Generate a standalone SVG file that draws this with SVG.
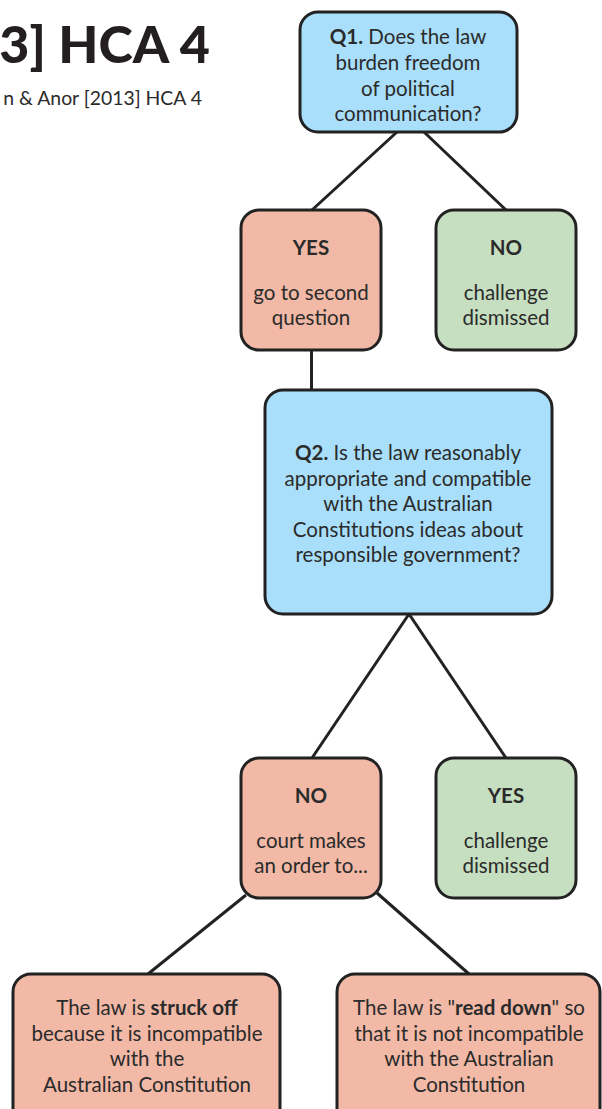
<svg xmlns="http://www.w3.org/2000/svg" width="602" height="1109" viewBox="0 0 602 1109">
<style>
.box{stroke:#222;stroke-width:3}
.blue{fill:#a9dffa}
.red{fill:#f1b9a6}
.green{fill:#c7dfc1}
.edge{stroke:#222;stroke-width:3;fill:none}
text{font-family:Lato,"Liberation Sans",sans-serif;fill:#2b2b2b;font-size:20.5px;text-anchor:middle}
.b{font-weight:bold}
</style>
<rect width="602" height="1109" fill="#ffffff"/>
<g id="title">
<text x="210" y="63" style="font-size:52px;font-weight:900;text-anchor:end;fill:#231f20">3] HCA 4</text>
<text x="202" y="105" style="font-size:19.4px;text-anchor:end">n &amp; Anor [2013] HCA 4</text>
</g>
<g id="connectors">
<line class="edge" x1="397" y1="132" x2="312" y2="210"/>
<line class="edge" x1="424" y1="132" x2="506" y2="210"/>
<line class="edge" x1="311.5" y1="350" x2="311.5" y2="391"/>
<line class="edge" x1="409" y1="614" x2="312" y2="758"/>
<line class="edge" x1="409" y1="614" x2="506" y2="758"/>
<line class="edge" x1="246" y1="895" x2="148" y2="974"/>
<line class="edge" x1="377" y1="893" x2="469" y2="974"/>
</g>
<g id="q1">
<rect class="box blue" x="300" y="12" width="217" height="120" rx="18"/>
<text x="408" y="44"><tspan class="b">Q1.</tspan> Does the law</text>
<text x="408" y="70">burden freedom</text>
<text x="408" y="96">of political</text>
<text x="408" y="121">communication?</text>
</g>
<g id="q1-yes">
<rect class="box red" x="241" y="210" width="140" height="140" rx="18"/>
<text x="311" y="255" class="b">YES</text>
<text x="311" y="300">go to second</text>
<text x="311" y="325">question</text>
</g>
<g id="q1-no">
<rect class="box green" x="436" y="210" width="140" height="140" rx="18"/>
<text x="506" y="255" class="b">NO</text>
<text x="506" y="300">challenge</text>
<text x="506" y="325">dismissed</text>
</g>
<g id="q2">
<rect class="box blue" x="265" y="390" width="287" height="224" rx="18"/>
<text x="408" y="460"><tspan class="b">Q2.</tspan> Is the law reasonably</text>
<text x="408" y="486">appropriate and compatible</text>
<text x="408" y="511">with the Australian</text>
<text x="408" y="537">Constitutions ideas about</text>
<text x="408" y="562">responsible government?</text>
</g>
<g id="q2-no">
<rect class="box red" x="241" y="758" width="140" height="140" rx="18"/>
<text x="311" y="803" class="b">NO</text>
<text x="311" y="848">court makes</text>
<text x="311" y="873">an order to...</text>
</g>
<g id="q2-yes">
<rect class="box green" x="436" y="758" width="140" height="140" rx="18"/>
<text x="506" y="803" class="b">YES</text>
<text x="506" y="848">challenge</text>
<text x="506" y="873">dismissed</text>
</g>
<g id="struck-off">
<rect class="box red" x="13" y="974" width="267" height="160" rx="18"/>
<text x="147" y="1015">The law is <tspan class="b">struck off</tspan></text>
<text x="147" y="1041">because it is incompatible</text>
<text x="147" y="1066">with the</text>
<text x="147" y="1092">Australian Constitution</text>
</g>
<g id="read-down">
<rect class="box red" x="337" y="974" width="263" height="160" rx="18"/>
<text x="469" y="1015">The law is "<tspan class="b">read down</tspan>" so</text>
<text x="469" y="1041">that it is not incompatible</text>
<text x="469" y="1066">with the Australian</text>
<text x="469" y="1092">Constitution</text>
</g>
</svg>
